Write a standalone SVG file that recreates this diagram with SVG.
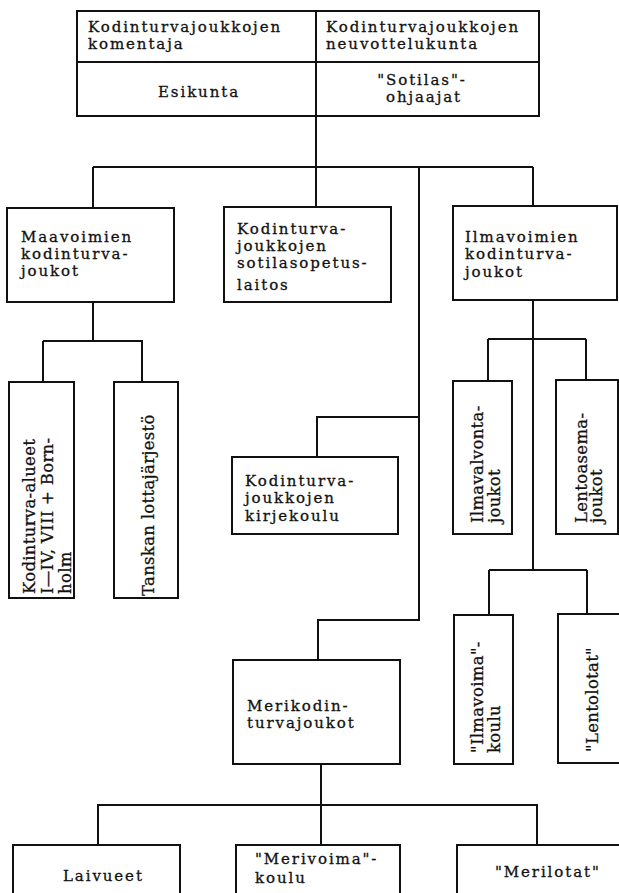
<svg xmlns="http://www.w3.org/2000/svg" width="619" height="893" viewBox="0 0 619 893">
<style>
.bx{fill:none;stroke:#111;stroke-width:2}
.ln{fill:none;stroke:#111;stroke-width:2}
.t{font-family:"DejaVu Serif","Liberation Serif",serif;font-size:15px;fill:#111;stroke:#111;stroke-width:0.3px;letter-spacing:1.9px}
.r{font-family:"DejaVu Serif","Liberation Serif",serif;font-size:16.5px;fill:#111;stroke:#111;stroke-width:0.3px;letter-spacing:0.3px}
.c{text-anchor:middle}
</style>
<rect width="619" height="893" fill="#fff"/>
<g id="connectors">
<path class="ln" d="M316 116V167M93 167H533M93 167V208M316 167V207M533 167V206"/>
<path class="ln" d="M419 167V620H318V660M419 417H317V457"/>
<path class="ln" d="M93 302V341M43 341H143M43 341V382M142 341V382"/>
<path class="ln" d="M533 300V570M488 339H586M488 339V381M586 339V380M489 570H587M489 570V615M587 570V614"/>
<path class="ln" d="M321 764V845M97 805H538M98 805V845M537 805V845"/>
</g>
<g id="top">
<rect class="bx" x="77" y="11" width="462" height="105"/>
<path class="ln" d="M316 11V116M77 62H539"/>
<text class="t" x="88" y="32">Kodinturvajoukkojen</text>
<text class="t" x="88" y="49">komentaja</text>
<text class="t" x="326" y="32">Kodinturvajoukkojen</text>
<text class="t" x="326" y="49">neuvottelukunta</text>
<text class="t c" x="199" y="97">Esikunta</text>
<text class="t c" x="422" y="85">"Sotilas"-</text>
<text class="t c" x="424" y="102">ohjaajat</text>
</g>
<g id="maavoimien">
<rect class="bx" x="7" y="208" width="167" height="94"/>
<text class="t" x="21" y="242">Maavoimien</text>
<text class="t" x="21" y="259">kodinturva-</text>
<text class="t" x="21" y="276">joukot</text>
</g>
<g id="sotilasopetuslaitos">
<rect class="bx" x="224" y="207" width="167" height="95"/>
<text class="t" x="237" y="234">Kodinturva-</text>
<text class="t" x="237" y="251">joukkojen</text>
<text class="t" x="237" y="268">sotilasopetus-</text>
<text class="t" x="237" y="290">laitos</text>
</g>
<g id="ilmavoimien">
<rect class="bx" x="453" y="206" width="164" height="94"/>
<text class="t" x="465" y="242">Ilmavoimien</text>
<text class="t" x="465" y="259">kodinturva-</text>
<text class="t" x="465" y="277">joukot</text>
</g>
<g id="alueet">
<rect class="bx" x="9" y="382" width="65" height="216"/>
<text class="r" transform="translate(35 594) rotate(-90)">Kodinturva-alueet</text>
<text class="r" transform="translate(53 594) rotate(-90)">I—IV, VIII + Born-</text>
<text class="r" transform="translate(71 594) rotate(-90)">holm</text>
</g>
<g id="lottajarjesto">
<rect class="bx" x="114" y="382" width="64" height="216"/>
<text class="r" transform="translate(154 596) rotate(-90)">Tanskan lottajärjestö</text>
</g>
<g id="kirjekoulu">
<rect class="bx" x="232" y="457" width="166" height="77"/>
<text class="t" x="245" y="486">Kodinturva-</text>
<text class="t" x="245" y="503">joukkojen</text>
<text class="t" x="245" y="521">kirjekoulu</text>
</g>
<g id="ilmavalvonta">
<rect class="bx" x="453" y="381" width="59" height="153"/>
<text class="r" transform="translate(483 523) rotate(-90)">Ilmavalvonta-</text>
<text class="r" transform="translate(500 523) rotate(-90)">joukot</text>
</g>
<g id="lentoasema">
<rect class="bx" x="556" y="380" width="62" height="154"/>
<text class="r" transform="translate(587 523) rotate(-90)">Lentoasema-</text>
<text class="r" transform="translate(602 523) rotate(-90)">joukot</text>
</g>
<g id="merikodin">
<rect class="bx" x="233" y="660" width="167" height="104"/>
<text class="t" x="247" y="711">Merikodin-</text>
<text class="t" x="247" y="728">turvajoukot</text>
</g>
<g id="ilmavoimakoulu">
<rect class="bx" x="454" y="615" width="59" height="149"/>
<text class="r" transform="translate(483 753) rotate(-90)">"Ilmavoima"-</text>
<text class="r" transform="translate(500 753) rotate(-90)">koulu</text>
</g>
<g id="lentolotat">
<rect class="bx" x="558" y="614" width="62" height="149"/>
<text class="r" transform="translate(598 752) rotate(-90)">"Lentolotat"</text>
</g>
<g id="laivueet">
<path class="ln" d="M13 900V845H180V900"/>
<text class="t" x="63" y="881">Laivueet</text>
</g>
<g id="merivoimakoulu">
<path class="ln" d="M236 900V845H400V900"/>
<text class="t" x="255" y="864">"Merivoima"-</text>
<text class="t" x="255" y="883">koulu</text>
</g>
<g id="merilotat">
<path class="ln" d="M457 900V845H625"/>
<text class="t" x="495" y="877">"Merilotat"</text>
</g>
</svg>
